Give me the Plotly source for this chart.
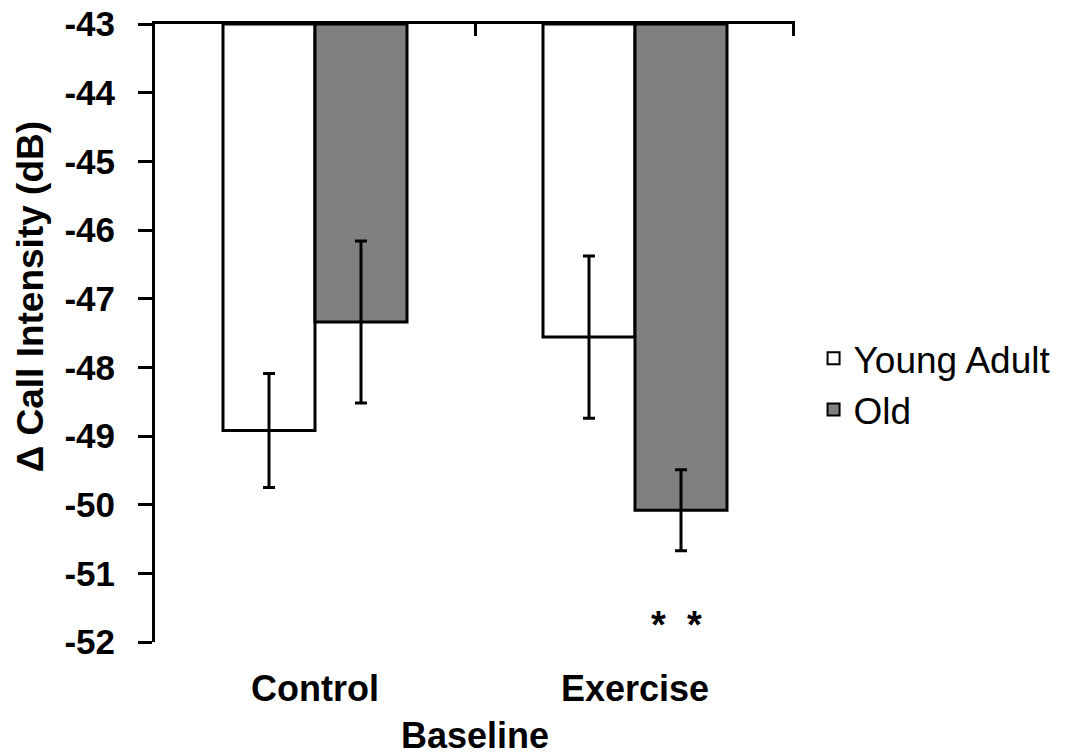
import plotly.graph_objects as go

categories = ["Control", "Exercise"]
young_adult = [-48.92, -47.56]
young_err = [0.83, 1.18]
old = [-47.34, -50.08]
old_err = [1.18, 0.59]
baseline_value = -43
y_ticks = [-52, -51, -50, -49, -48, -47, -46, -45, -44, -43]
y_ticktext = ["-52", "-51", "-50", "-49", "-48", "-47", "-46", "-45", "-44", "-43"]

xpos = list(range(len(categories)))
FONT = "Liberation Sans, Arial, sans-serif"

fig = go.Figure()
fig.add_trace(go.Bar(
    x=xpos, y=[v - baseline_value for v in young_adult], base=baseline_value,
    name="Young Adult", marker=dict(color="white", line=dict(color="black", width=3)),
    error_y=dict(type="data", array=young_err, color="black", thickness=3, width=6),
))
fig.add_trace(go.Bar(
    x=xpos, y=[v - baseline_value for v in old], base=baseline_value,
    name="Old", marker=dict(color="#808080", line=dict(color="black", width=3)),
    error_y=dict(type="data", array=old_err, color="black", thickness=3, width=6),
))
# invisible trace for the top axis
fig.add_trace(go.Scatter(x=[-0.5, 1.5], y=[baseline_value, baseline_value], xaxis="x2",
                         mode="lines", line=dict(width=0), showlegend=False, hoverinfo="skip"))

fig.add_annotation(x=1.13, y=-51.75, text="<b>*  *</b>", showarrow=False,
                   font=dict(family=FONT, size=38, color="black"))
fig.add_annotation(xref="paper", yref="paper", x=-0.195, y=0.558, xanchor="center", yanchor="middle",
                   text="<b>Δ Call Intensity (dB)</b>", textangle=-90, showarrow=False,
                   font=dict(family=FONT, size=37, color="black"))

fig.update_layout(
    width=1068, height=756,
    margin=dict(l=155, r=273, t=24, b=114, autoexpand=False),
    plot_bgcolor="white", paper_bgcolor="white",
    barmode="group", bargap=0.425, bargroupgap=0,
    font=dict(family=FONT, color="black"),
    xaxis=dict(range=[-0.5, 1.5], tickvals=xpos, ticktext=categories, showline=False,
               showgrid=False, zeroline=False, ticks="", ticklabelstandoff=22, automargin=False,
               tickfont=dict(size=36, family=FONT, weight="bold"),
               title=dict(text="<b>Baseline</b>", font=dict(size=36), standoff=14)),
    xaxis2=dict(range=[-0.5, 1.5], overlaying="x", side="top", anchor="y", automargin=False,
                showline=True, linecolor="black", linewidth=3,
                tickvals=[0.5, 1.495], ticks="inside", ticklen=12, tickwidth=3, tickcolor="black",
                showticklabels=False, showgrid=False, zeroline=False),
    yaxis=dict(range=[-52, -43], tickvals=y_ticks, ticktext=y_ticktext, automargin=False,
               showline=True, linecolor="black", linewidth=3,
               ticks="outside", ticklen=14, tickwidth=3, tickcolor="black",
               showgrid=False, zeroline=False, ticklabelstandoff=16,
               tickfont=dict(size=35, family=FONT, weight="bold")),
    legend=dict(x=1.029, xanchor="left", y=0.417, yanchor="middle", font=dict(size=37, family=FONT),
                itemsizing="constant", tracegroupgap=4, bgcolor="rgba(0,0,0,0)"),
)

fig.write_html("out.html")
